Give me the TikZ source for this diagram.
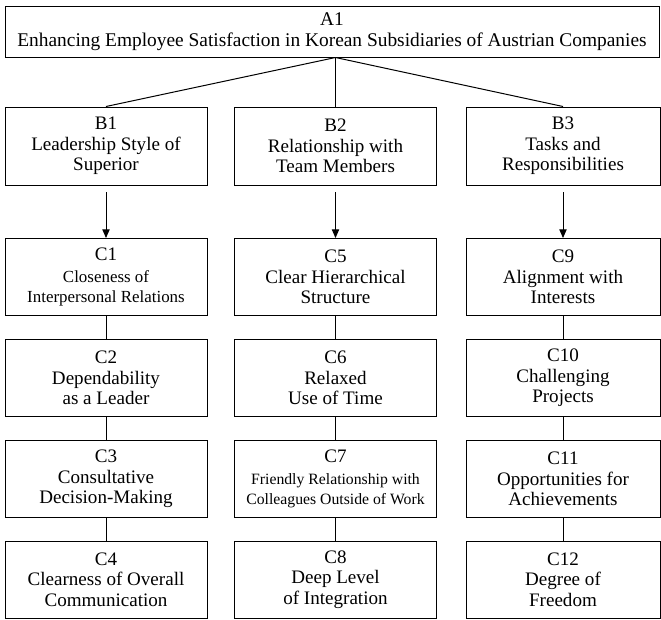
\documentclass[tikz,border=0pt]{standalone}
\usepackage{fontspec}
\setmainfont{Liberation Serif}
\usetikzlibrary{arrows.meta}

\newcommand{\smalltxt}{\fontsize{12.7}{16}\selectfont}
\newcommand{\tinytxt}{\fontsize{11.8}{13.5}\selectfont}

\begin{document}
\begin{tikzpicture}[x=0.75pt,y=0.75pt,yscale=-1,xscale=1,
  box/.style={draw,line width=0.75pt,inner sep=0pt,align=center,minimum width=151.5pt,minimum height=57.75pt,font=\fontsize{14.3}{15.5}\selectfont},
  link/.style={line width=0.75pt},
  arr/.style={line width=0.75pt,-{Triangle[width=5.5pt,length=6.5pt]},shorten <=5pt}]
\useasboundingbox (0,0) rectangle (661,619);

%Shape: Rectangle [goal]
\node (A1) at (332,31.5) [box,minimum width=490.5pt,minimum height=38.25pt,font=\fontsize{14.55}{15.6}\selectfont] {A1\\Enhancing Employee Satisfaction in Korean Subsidiaries of Austrian Companies};

%Shape: Rectangle [criteria]
\node (B1) at (106,146) [box,minimum height=58.5pt] {B1\\Leadership Style of\\Superior};
\node (B2) at (335.5,146) [box,minimum height=58.5pt] {B2\\Relationship with\\Team Members};
\node (B3) at (563,146) [box,minimum width=145.5pt,minimum height=58.5pt] {B3\\Tasks and\\Responsibilities};

%Shape: Rectangle [sub-criteria, column 1]
\node (C1) at (106,277) [box] {C1\\[1pt]\smalltxt Closeness of\\\smalltxt Interpersonal Relations};
\node (C2) at (106,378) [box] {C2\\Dependability\\as a Leader};
\node (C3) at (106,479) [box] {C3\\Consultative\\Decision-Making};
\node (C4) at (106,579.5) [box] {C4\\Clearness of Overall\\Communication};

%Shape: Rectangle [sub-criteria, column 2]
\node (C5) at (335.5,277) [box] {C5\\Clear Hierarchical\\Structure};
\node (C6) at (335.5,378) [box] {C6\\Relaxed\\Use of Time};
\node (C7) at (335.5,479) [box] {C7\\[1pt]\tinytxt Friendly Relationship with\\\tinytxt Colleagues Outside of Work};
\node (C8) at (335.5,579.5) [box] {C8\\Deep Level\\of Integration};

%Shape: Rectangle [sub-criteria, column 3]
\node (C9) at (563,277) [box,minimum width=145.5pt] {C9\\Alignment with\\Interests};
\node (C10) at (563,378) [box,minimum width=145.5pt] {C10\\Challenging\\Projects};
\node (C11) at (563,479) [box,minimum width=145.5pt] {C11\\Opportunities for\\Achievements};
\node (C12) at (563,579.5) [box,minimum width=145.5pt] {C12\\Degree of\\Freedom};

%Straight Lines [goal to criteria]
\draw[link] (A1.south -| B2) -- (B1.north);
\draw[link] (A1.south -| B2) -- (B2.north);
\draw[link] (A1.south -| B2) -- (B3.north);

%Straight Lines [criteria to sub-criteria]
\draw[arr] (B1) -- (C1);
\draw[arr] (B2) -- (C5);
\draw[arr] (B3) -- (C9);

%Straight Lines [within columns]
\draw[link] (C1) -- (C2);
\draw[link] (C2) -- (C3);
\draw[link] (C3) -- (C4);
\draw[link] (C5) -- (C6);
\draw[link] (C6) -- (C7);
\draw[link] (C7) -- (C8);
\draw[link] (C9) -- (C10);
\draw[link] (C10) -- (C11);
\draw[link] (C11) -- (C12);

\end{tikzpicture}
\end{document}
